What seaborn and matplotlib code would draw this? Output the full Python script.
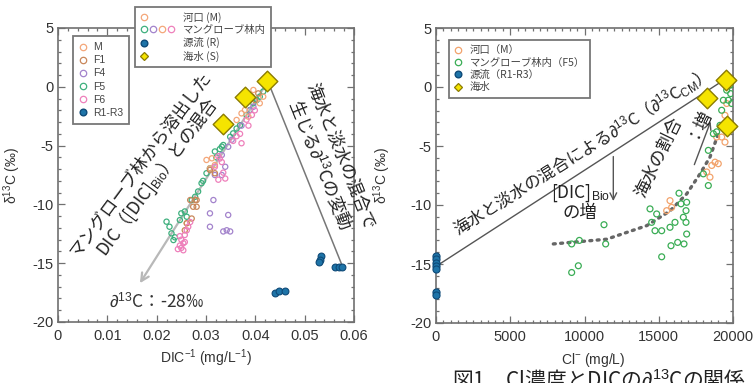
import numpy as np
import pandas as pd
import matplotlib
matplotlib.use('Agg')
import matplotlib.pyplot as plt
import seaborn as sns
from matplotlib.lines import Line2D
from matplotlib.legend_handler import HandlerTuple
from matplotlib.ticker import MultipleLocator

# ---------------- data: left panel (DIC^-1 vs d13C) ----------------
L_M_x = [0.0301, 0.0312, 0.0318, 0.0308, 0.0372, 0.0379, 0.0386, 0.0409, 0.0416, 0.0362, 0.0396, 0.0261]
L_M_y = [-6.22, -6.08, -6.65, -6.93, -2.26, -1.97, -2.54, -1.40, -0.84, -2.82, -0.27, -11.6]
L_F1_x = [0.0268, 0.0274, 0.0261, 0.0271, 0.0281, 0.0278, 0.0281, 0.0257, 0.0393, 0.0399, 0.0406, 0.0308, 0.0318]
L_F1_y = [-9.63, -10.2, -11.6, -11.2, -9.63, -9.63, -10.2, -12.2, -0.84, -1.12, -0.56, -7.07, -7.35]
L_F4_x = [0.0315, 0.0308, 0.0345, 0.0308, 0.0335, 0.0342, 0.0349, 0.0332, 0.0339, 0.0332, 0.0318, 0.0372, 0.0389, 0.0396, 0.0352, 0.0345]
L_F4_y = [-9.63, -10.76, -10.9, -11.9, -12.3, -12.2, -12.3, -5.8, -6.8, -7.5, -7.5, -3.3, -2.0, -1.7, -4.5, -5.1]
L_F5_x = [0.0220, 0.0226, 0.0230, 0.0234, 0.0237, 0.0247, 0.0250, 0.0257, 0.0261, 0.0271, 0.0278, 0.0284,
          0.0291, 0.0294, 0.0301, 0.0308, 0.0321, 0.0332, 0.0335, 0.0349, 0.0355, 0.0362, 0.0369, 0.0382,
          0.0389, 0.0396, 0.0403, 0.0409, 0.0416, 0.0420, 0.0318, 0.0328]
L_F5_y = [-11.47, -11.9, -12.46, -13.03, -12.8, -11.33, -10.76, -10.6, -11.05, -9.63, -9.35, -8.9,
          -8.2, -8.0, -7.35, -6.93, -6.0, -5.09, -4.95, -4.25, -3.96, -3.55, -3.27, -2.4,
          -1.97, -1.4, -1.12, -0.84, -0.4, 0.15, -5.5, -5.3]
L_F6_x = [0.0247, 0.0250, 0.0254, 0.0247, 0.0250, 0.0257, 0.0257, 0.0243, 0.0254, 0.0261, 0.0264, 0.0268,
          0.0325, 0.0328, 0.0332, 0.0318, 0.0335, 0.0339, 0.0325, 0.0355, 0.0362, 0.0372, 0.0369, 0.0386,
          0.0382, 0.0393, 0.0399]
L_F6_y = [-12.7, -13.0, -13.3, -13.5, -13.7, -13.2, -12.6, -13.8, -13.9, -12.2, -11.9, -11.5,
          -5.9, -6.1, -6.4, -6.8, -7.3, -7.8, -7.9, -4.6, -4.2, -4.8, -4.0, -3.3,
          -2.8, -2.4, -2.0]
L_R_x = [0.0533, 0.0531, 0.0529, 0.0562, 0.0570, 0.0576, 0.0440, 0.0448, 0.0460]
L_R_y = [-14.4, -14.7, -14.9, -15.3, -15.3, -15.3, -17.5, -17.4, -17.4]
L_S_x = [0.0334, 0.0379, 0.0423]
L_S_y = [-3.2, -0.9, 0.5]

# ---------------- data: right panel (Cl vs d13C) ----------------
R_M_x = [15758, 15533, 15870, 18230, 18570, 18790, 18450, 19010, 19240, 19685, 19574, 19460, 18900, 19461, 19574]
R_M_y = [-9.63, -10.48, -10.2, -7.2, -6.65, -6.37, -7.64, -6.5, -4.24, -3.25, -3.67, -4.67, -4.24, -2.4, -1.4]
R_F5_x = [9136, 9585, 9136, 9652, 11313, 11425, 14411, 14523, 14860, 14748, 15197, 15197, 15758, 15825,
          16094, 16274, 16364, 16498, 16656, 16700, 16835, 16835, 16880, 16880, 18002, 18339, 18339,
          18676, 18900, 19125, 19237, 19350, 19574, 19686, 19798, 19843, 19911]
R_F5_y = [-15.72, -15.15, -13.3, -13.0, -11.67, -13.3, -10.33, -11.47, -10.76, -12.18, -12.18, -14.39, -11.89, -13.45,
          -11.47, -13.17, -9.0, -9.9, -11.04, -13.3, -10.48, -11.47, -9.77, -12.46, -7.36, -8.35, -5.37,
          -3.96, -3.8, -3.25, -1.97, -1.12, -0.27, -1.12, 0.15, -0.56, -1.4]
R_R_x = [30, 30, 30, 30, 30, 30, 30]
R_R_y = [-14.3, -14.6, -14.9, -15.15, -15.4, -17.4, -17.6]
R_S_x = [19580, 18230, 19510]
R_S_y = [-3.3, -0.9, 0.6]

# lines
L_bio_x = [0.0423, 0.0163]          # mixing with [DIC]Bio (arrow)
L_bio_y = [0.3, -16.9]
L_mix_x = [0.0427, 0.0575]          # seawater - freshwater mixing
L_mix_y = [0.3, -15.1]
R_mix_x = [0, 19400]
R_mix_y = [-15.2, 0.6]
R_dot_x = [7900, 11490, 14190, 15760, 16880, 17780, 18450, 19010]
R_dot_y = [-13.3, -12.9, -11.75, -10.5, -9.06, -7.36, -5.94, -3.96]

# ---------------- style ----------------
sns.set_theme(style='ticks')
plt.rcParams['font.family'] = ['Liberation Sans', 'Noto Sans CJK JP', 'DejaVu Sans']
plt.rcParams['mathtext.fontset'] = 'custom'
plt.rcParams['mathtext.rm'] = 'Liberation Sans'
plt.rcParams['mathtext.it'] = 'Liberation Sans:italic'
plt.rcParams['mathtext.bf'] = 'Liberation Sans:bold'
plt.rcParams['axes.unicode_minus'] = False
CJK = ['Noto Sans CJK JP', 'DejaVu Sans']

cM, cF1, cF4, cF5, cF6 = '#f4a77a', '#c9875a', '#a383cc', '#3fb07e', '#ee80bb'
cR, cRe = '#1e74a8', '#0e4a78'
cS, cSe = '#f5e400', '#8c7c00'
rM, rF5 = '#f2a36c', '#3aad55'
spine_c = '#707070'
txt_c = '#333333'

fig = plt.figure(figsize=(7.55, 3.83), dpi=100)
axL = fig.add_axes([58/755, 1-322/383, 296/755, 294/383])
axR = fig.add_axes([436/755, 1-323/383, 297/755, 295/383])

def style(ax, xmaj, xmin):
    for s in ax.spines.values():
        s.set_color(spine_c)
        s.set_linewidth(1.2)
    ax.xaxis.set_major_locator(MultipleLocator(xmaj))
    ax.xaxis.set_minor_locator(MultipleLocator(xmin))
    ax.yaxis.set_major_locator(MultipleLocator(5))
    ax.yaxis.set_minor_locator(MultipleLocator(1))
    ax.tick_params(which='both', direction='in', top=True, right=True, color=spine_c,
                   labelcolor=txt_c, labelsize=10.5, width=0.9)
    ax.tick_params(which='major', length=5, pad=3)
    ax.tick_params(which='minor', length=2.5)
    ax.tick_params(axis='x', pad=5)
    ax.set_ylim(-20, 5)

def open_pts(ax, xs, ys, c, s=14, lw=0.9):
    df = pd.DataFrame({'x': xs, 'y': ys})
    sns.scatterplot(data=df, x='x', y='y', ax=ax, marker='o', s=s, facecolors='none',
                    edgecolors=c, linewidths=lw, legend=False, zorder=3)

def filled_pts(ax, xs, ys, c, ec, s=22, marker='o', lw=0.8, z=4):
    df = pd.DataFrame({'x': xs, 'y': ys})
    sns.scatterplot(data=df, x='x', y='y', ax=ax, marker=marker, s=s, color=c,
                    edgecolor=ec, linewidth=lw, legend=False, zorder=z, clip_on=False)

# ---------------- left panel ----------------
style(axL, 0.01, 0.002)
axL.set_xlim(0, 0.06)
axL.xaxis.set_major_formatter(matplotlib.ticker.FuncFormatter(lambda v, p: '0' if abs(v) < 1e-9 else f'{v:.2f}'))

axL.annotate('', xy=(L_bio_x[1], L_bio_y[1]), xytext=(L_bio_x[0], L_bio_y[0]),
             arrowprops=dict(arrowstyle='->', color='#b8b8b8', lw=1.6, mutation_scale=14), zorder=1)
sns.lineplot(x=L_mix_x, y=L_mix_y, ax=axL, color='#777777', lw=1.1, zorder=1)

open_pts(axL, L_F5_x, L_F5_y, cF5)
open_pts(axL, L_F4_x, L_F4_y, cF4)
open_pts(axL, L_M_x, L_M_y, cM)
open_pts(axL, L_F1_x, L_F1_y, cF1)
open_pts(axL, L_F6_x, L_F6_y, cF6)
filled_pts(axL, L_R_x, L_R_y, cR, cRe, s=24)
filled_pts(axL, L_S_x, L_S_y, cS, cSe, s=110, marker='D', lw=1.0, z=5)

axL.set_xlabel('DIC$^{-1}$ (mg/L$^{-1}$)', fontsize=10, color=txt_c)
axL.set_ylabel('δ$^{13}$C (‰)', fontsize=10, color=txt_c)
axL.xaxis.set_label_coords(0.5, -0.088)
axL.yaxis.set_label_coords(-0.118, 0.5)

axL.text(0.0187, -7.2, 'マングローブ林から溶出した\nDIC（[DIC]$_{\\rm Bio}$）との混合', rotation=53.5,
         ha='center', va='center', fontsize=12.5, family=CJK, color='#222222', linespacing=1.05,
         rotation_mode='anchor', zorder=6)
axL.text(0.0550, -6.3, '海水と淡水の混合で\n生じる$\\partial^{13}$Cの変動', rotation=-68,
         ha='center', va='center', fontsize=12.5, family=CJK, color='#222222', linespacing=1.05,
         rotation_mode='anchor', zorder=6)
axL.text(0.0200, -18.3, '$\\partial^{13}$C：-28‰', ha='center', va='center', fontsize=12.5,
         family=CJK, color='#333333')

def circ(c, ms=4.6):
    return Line2D([], [], ls='none', marker='o', mfc='none', mec=c, ms=ms, mew=0.9)

blank = Line2D([], [], ls='none', marker=None)
h1 = [circ(cM), circ(cF1), circ(cF4), circ(cF5), circ(cF6),
      Line2D([], [], ls='none', marker='o', mfc=cR, mec=cRe, ms=4.8)]
leg1 = axL.legend(h1, ['M', 'F1', 'F4', 'F5', 'F6', 'R1-R3'], loc='upper left',
                  bbox_to_anchor=(0.05, 0.973), borderaxespad=0, fontsize=7.5, frameon=True,
                  fancybox=False, edgecolor='#777777', framealpha=1, handlelength=0.8,
                  handletextpad=0.55, labelspacing=0.3, borderpad=0.6, labelcolor='#444444')
leg1.get_frame().set_linewidth(1.3)
axL.add_artist(leg1)

diam = Line2D([], [], ls='none', marker='D', mfc=cS, mec=cSe, ms=4.5, mew=0.9)
h2 = [(circ(cM), blank, blank, blank),
      (circ(cF5), circ(cF4), circ(cM), circ(cF6)),
      (Line2D([], [], ls='none', marker='o', mfc=cR, mec=cRe, ms=4.8), blank, blank, blank),
      (diam, blank, blank, blank)]
leg2 = axL.legend(h2, ['河口 (M)', 'マングローブ林内', '源流 (R)', '海水 (S)'], loc='upper left',
                  bbox_to_anchor=(0.26, 1.071), borderaxespad=0, frameon=True,
                  fancybox=False, edgecolor='#777777', framealpha=1, handlelength=3.4,
                  handletextpad=0.8, labelspacing=0.22, borderpad=0.45, labelcolor='#444444',
                  prop={'family': CJK, 'size': 7.5},
                  handler_map={tuple: HandlerTuple(ndivide=None, pad=0.1)})
leg2.get_frame().set_linewidth(1.3)
leg2.set_zorder(10)

# ---------------- right panel ----------------
style(axR, 5000, 500)
axR.set_xlim(0, 20000)

sns.lineplot(x=R_mix_x, y=R_mix_y, ax=axR, color='#555555', lw=1.0, zorder=1)
sns.lineplot(x=R_dot_x, y=R_dot_y, ax=axR, color='#666666', lw=2.4, zorder=2,
             linestyle=(0, (0.6, 1.6)), dash_capstyle='round')
axR.annotate('', xy=(11940, -9.9), xytext=(11940, -5.66),
             arrowprops=dict(arrowstyle='->', color='#555555', lw=1.0, mutation_scale=12))
axR.annotate('', xy=(18560, -2.7), xytext=(17330, -6.8),
             arrowprops=dict(arrowstyle='->', color='#555555', lw=1.0, mutation_scale=12))

open_pts(axR, R_M_x, R_M_y, rM, s=18)
open_pts(axR, R_F5_x, R_F5_y, rF5, s=18)
filled_pts(axR, R_R_x, R_R_y, cR, cRe, s=26)
filled_pts(axR, R_S_x, R_S_y, cS, cSe, s=110, marker='D', lw=1.0, z=5)

axR.set_xlabel('Cl$^{-}$ (mg/L)', fontsize=10, color=txt_c)
axR.set_ylabel('δ$^{13}$C (‰)', fontsize=10, color=txt_c)
axR.xaxis.set_label_coords(0.53, -0.095)
axR.yaxis.set_label_coords(-0.145, 0.5)

axR.text(9600, -5.7, '海水と淡水の混合による$\\partial^{13}$C（$\\partial^{13}$C$_{\\rm CM}$）', rotation=32,
         ha='center', va='center', fontsize=12, family=CJK, color='#222222',
         rotation_mode='anchor', zorder=6)
axR.text(9700, -9.8, '[DIC]$_{\\rm Bio}$\nの増', ha='center', va='center', fontsize=12.5,
         family=CJK, color='#222222', linespacing=1.0)
axR.text(15037, -6.0, '海水の割合', rotation=64, ha='center', va='center', fontsize=12.5,
         family=CJK, color='#222222', rotation_mode='anchor')
axR.text(17555, -2.97, '：増', rotation=64, ha='center', va='center', fontsize=12.5,
         family=CJK, color='#222222', rotation_mode='anchor')

h3 = [circ(rM), circ(rF5), Line2D([], [], ls='none', marker='o', mfc=cR, mec=cRe, ms=4.8), diam]
leg3 = axR.legend(h3, ['河口（M）', 'マングローブ林内（F5）', '源流（R1-R3）', '海水'], loc='upper left',
                  bbox_to_anchor=(0.044, 0.959), borderaxespad=0, frameon=True,
                  fancybox=False, edgecolor='#777777', framealpha=1, handlelength=0.8,
                  handletextpad=0.7, labelspacing=0.22, borderpad=0.5, labelcolor='#444444',
                  prop={'family': CJK, 'size': 7.5})
leg3.get_frame().set_linewidth(1.3)

fig.text(452/755, 1-369/383, '図1　Cl濃度とDICの$\\partial^{13}$Cの関係', ha='left', va='top',
         fontsize=15, family=CJK, color='#222222')

fig.savefig('out.png', dpi=100)
